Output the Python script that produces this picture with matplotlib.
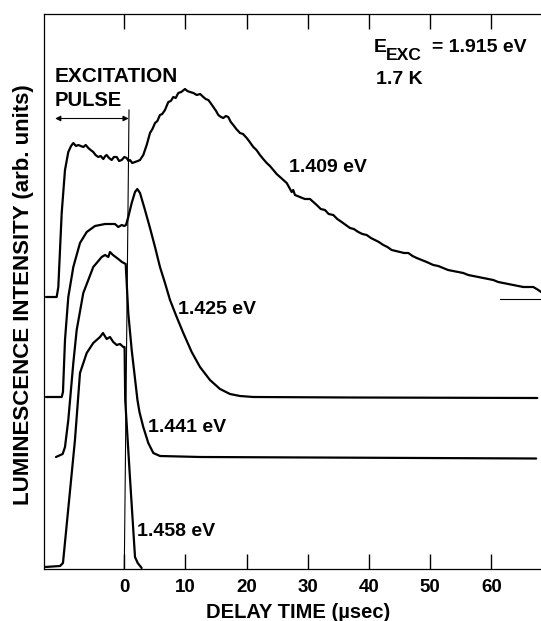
import matplotlib
matplotlib.use("Agg")
import matplotlib.pyplot as plt

plt.rcParams['font.family'] = ['Liberation Sans', 'DejaVu Sans']
plt.rcParams['font.weight'] = 'bold'

# ---------------- data (delay time in usec, intensity in arb. units) -------------
t_1409 = [-12.79, -11.05, -10.78, -10.23, -9.69, -9.15, -8.7, -8.33, -7.9, -7.52, -7.1, -6.70,
          -6.3, -5.88, -5.5, -5.07, -4.7, -4.25, -3.85, -3.43, -3.1, -2.88, -2.5, -2.06, -1.7,
          -1.24, -0.85, -0.42, 0.0, 0.39, 0.7, 0.93, 1.3, 1.75, 2.2, 2.57, 3.10, 3.66, 4.20,
          4.6, 5.02, 5.4, 5.83, 6.2, 6.65, 7.19, 7.6, 8.01, 8.4, 8.82, 9.3, 9.92, 10.3, 10.74,
          11.3, 11.83, 12.4, 12.91, 13.3, 13.73, 14.1, 14.54, 15.0, 15.36, 15.8, 16.18, 16.6,
          16.99, 17.4, 17.81, 18.3, 18.91, 19.4, 20.00, 20.5, 21.08, 21.6, 22.17, 22.7, 23.27,
          23.8, 24.35, 24.9, 25.44, 26.0, 26.54, 26.9, 27.35, 27.6, 27.89, 28.3, 28.71, 29.5,
          30.34, 30.9, 31.44, 32.1, 32.79, 33.4, 34.15, 34.8, 35.52, 36.2, 36.88, 37.5, 38.24,
          38.9, 39.61, 40.3, 40.96, 41.6, 42.32, 43.0, 43.69, 44.4, 45.05, 45.7, 46.41, 47.1,
          47.78, 48.6, 49.41, 50.49, 51.3, 52.12, 52.9, 53.76, 54.6, 55.39, 56.2, 57.03, 57.8,
          58.66, 59.5, 60.29, 61.1, 61.93, 62.7, 63.56, 64.4, 65.20, 66.0, 66.83, 67.65, 68.1]
i_1409 = [2.72, 2.72, 2.82, 3.56, 3.99, 4.17, 4.23, 4.26, 4.23, 4.24, 4.23, 4.22,
          4.24, 4.21, 4.19, 4.17, 4.14, 4.12, 4.13, 4.10, 4.13, 4.14, 4.11, 4.09, 4.12,
          4.12, 4.08, 4.09, 4.12, 4.11, 4.08, 4.09, 4.06, 4.07, 4.08, 4.09, 4.14, 4.24, 4.36,
          4.40, 4.46, 4.48, 4.54, 4.55, 4.59, 4.67, 4.68, 4.72, 4.71, 4.76, 4.77, 4.80, 4.78, 4.77,
          4.76, 4.74, 4.75, 4.72, 4.70, 4.69, 4.66, 4.62, 4.58, 4.54, 4.52, 4.51, 4.53,
          4.52, 4.47, 4.44, 4.40, 4.36, 4.35, 4.31, 4.27, 4.22, 4.19, 4.14, 4.10, 4.06,
          4.03, 3.99, 3.95, 3.92, 3.89, 3.86, 3.82, 3.77, 3.79, 3.74, 3.73, 3.72, 3.70,
          3.70, 3.67, 3.64, 3.60, 3.59, 3.55, 3.54, 3.50, 3.47, 3.44, 3.41, 3.40, 3.37,
          3.35, 3.34, 3.31, 3.29, 3.27, 3.24, 3.22, 3.19, 3.18, 3.17, 3.16, 3.16, 3.13,
          3.11, 3.09, 3.07, 3.04, 3.03, 3.01, 2.99, 2.98, 2.97, 2.96, 2.94, 2.93, 2.92,
          2.91, 2.90, 2.89, 2.87, 2.86, 2.85, 2.84, 2.83, 2.82, 2.82, 2.82, 2.79, 2.77]

t_1425 = [-12.79, -10.23, -10.02, -9.69, -9.15, -8.33, -7.24, -6.14, -4.79, -3.15, -1.52, -0.98,
          -0.42, 0.0, 0.28, 0.65, 1.21, 1.75, 2.12, 2.57, 3.38, 4.20, 5.02, 5.83, 6.65, 7.47,
          8.56, 9.64, 11.01, 12.37, 14.00, 15.64, 17.27, 18.91, 21.08, 36.9, 67.48]
i_1425 = [1.72, 1.72, 1.77, 2.29, 2.72, 3.02, 3.26, 3.37, 3.43, 3.45, 3.45, 3.42,
          3.44, 3.43, 3.44, 3.52, 3.66, 3.77, 3.80, 3.76, 3.59, 3.41, 3.22, 3.02, 2.86, 2.69,
          2.52, 2.36, 2.17, 2.02, 1.89, 1.80, 1.75, 1.73, 1.72, 1.715, 1.71]

t_1441 = [-11.16, -10.07, -9.69, -9.15, -8.33, -7.78, -6.70, -5.07, -3.69, -3.15, -2.61, -2.34,
          -1.85, -0.98, -0.38, 0.23, 0.65, 1.21, 2.15, 2.48, 3.10, 3.92, 4.74, 5.83, 12.4, 67.3]
i_1441 = [1.12, 1.15, 1.22, 1.49, 2.06, 2.39, 2.76, 3.02, 3.12, 3.14, 3.12, 3.17,
          3.14, 3.10, 3.07, 3.05, 2.56, 2.19, 1.69, 1.57, 1.42, 1.26, 1.16, 1.13, 1.12, 1.105]

t_1458 = [-12.95, -10.5, -10.02, -8.06, -7.24, -6.14, -5.07, -3.97, -3.48, -2.88, -2.34, -1.80,
          -1.24, -0.70, -0.16, 0.05, 0.15, 0.93, 1.75, 2.19, 2.84]
i_1458 = [0.02, 0.03, 0.06, 1.29, 1.96, 2.16, 2.26, 2.32, 2.36, 2.30, 2.32, 2.27,
          2.24, 2.25, 2.22, 2.22, 1.69, 0.91, 0.12, 0.06, 0.01]

series = [(t_1409, i_1409), (t_1425, i_1425), (t_1441, i_1441), (t_1458, i_1458)]
labels = ["1.409 eV", "1.425 eV", "1.441 eV", "1.458 eV"]
label_pos = [(26.9, 4.01), (8.77, 2.59), (3.87, 1.42), (2.08, 0.38)]

zero_1409_t = [61.4, 68.1]
zero_1409_i = [2.70, 2.70]

x_ticks = [0, 10, 20, 30, 40, 50, 60]

# ---------------- figure ----------------
fig = plt.figure(figsize=(5.41, 6.21), dpi=100)
ax = fig.add_axes([44 / 541, 52 / 621, 497 / 541, 555.5 / 621])
ax.set_xlim(-13.12, 68.09)
ax.set_ylim(0, 5.555)

for (t, v) in series:
    ax.plot(t, v, color='black', lw=1.6, solid_joinstyle='round', solid_capstyle='round')

ax.plot(zero_1409_t, zero_1409_i, color='black', lw=0.8)

# excitation pulse marker
ax.plot([0.77, 0.0], [4.59, 0.0], color='black', lw=0.8)
ax.annotate('', xy=(-11.3, 4.505), xytext=(0.72, 4.505),
            arrowprops=dict(arrowstyle='<|-|>', lw=0.8, color='black',
                            mutation_scale=8, shrinkA=0, shrinkB=0))

fs = 14
for lab, (x, y) in zip(labels, label_pos):
    ax.text(x, y, lab, fontsize=fs, fontweight='bold', ha='left', va='center')

ax.text(-11.32, 4.92, "EXCITATION", fontsize=15, fontweight='bold', ha='left', va='center')
ax.text(-11.32, 4.68, "PULSE", fontsize=14.5, fontweight='bold', ha='left', va='center')

ax.text(40.8, 5.22, "E", fontsize=fs, fontweight='bold', ha='left', va='center')
ax.text(42.8, 5.13, "EXC", fontsize=fs * 0.9, fontweight='bold', ha='left', va='center')
ax.text(50.3, 5.22, "= 1.915 eV", fontsize=fs, fontweight='bold', ha='left', va='center')
ax.text(41.1, 4.89, "1.7 K", fontsize=fs, fontweight='bold', ha='left', va='center')

# axes styling
for s in ['left', 'bottom', 'top']:
    ax.spines[s].set_linewidth(0.9)
ax.spines['right'].set_visible(False)
ax.set_xticks(x_ticks)
ax.set_xticklabels([str(v) for v in x_ticks])
ax.tick_params(axis='x', direction='in', length=11, width=1.0, top=True,
               labelsize=13.5, pad=7, colors='black')
ax.tick_params(axis='y', left=False, labelleft=False)

ax.set_xlabel("DELAY TIME (µsec)", fontsize=14.5, fontweight='bold')
ax.xaxis.set_label_coords((298.5 - 44) / 497, (569 - 613) / 555.5)
ax.xaxis.label.set_va('center')
ax.set_ylabel("LUMINESCENCE INTENSITY (arb. units)", fontsize=16, fontweight='bold')
ax.yaxis.set_label_coords((24 - 44) / 497, (569 - 295) / 555.5)
ax.yaxis.label.set_va('center')

fig.savefig("out.png", dpi=100)
